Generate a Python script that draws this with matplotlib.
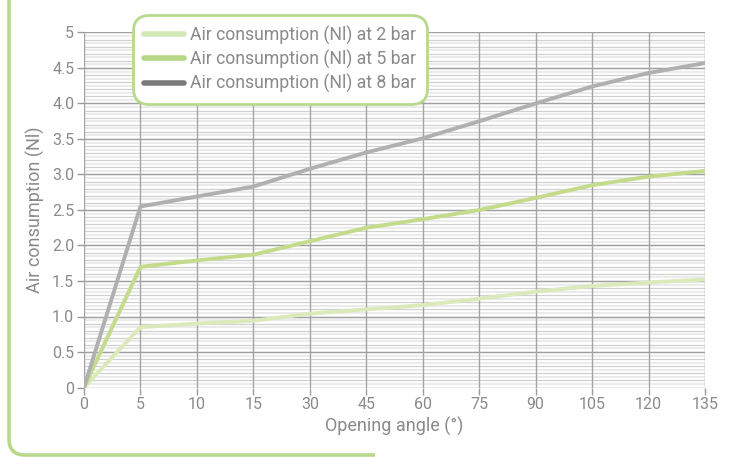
import numpy as np
import matplotlib
matplotlib.use("Agg")
import matplotlib.pyplot as plt
from matplotlib.patches import PathPatch
from matplotlib.path import Path
from matplotlib.transforms import IdentityTransform
from matplotlib.lines import Line2D

# opening angles (categories, equally spaced)
angles = ["0", "5", "10", "15", "30", "45", "60", "75", "90", "105", "120", "135"]
# air consumption in Nl
cons_2bar = [0, 0.85, 0.90, 0.94, 1.04, 1.10, 1.16, 1.25, 1.35, 1.43, 1.48, 1.52]
cons_5bar = [0, 1.70, 1.79, 1.87, 2.06, 2.25, 2.37, 2.50, 2.67, 2.85, 2.97, 3.05]
cons_8bar = [0, 2.55, 2.69, 2.83, 3.08, 3.31, 3.51, 3.75, 4.00, 4.24, 4.43, 4.57]
labels = ["Air consumption (Nl) at 2 bar",
          "Air consumption (Nl) at 5 bar",
          "Air consumption (Nl) at 8 bar"]
yticks = [0, 0.5, 1.0, 1.5, 2.0, 2.5, 3.0, 3.5, 4.0, 4.5, 5]
ytick_labels = ["0", "0.5", "1.0", "1.5", "2.0", "2.5", "3.0", "3.5", "4.0", "4.5", "5"]

c2 = "#dbe9bb"
c5 = "#c3db8a"
c8 = "#b0b0b0"
green = "#b8d98c"
txt = "#8a8a8a"

plt.rcParams['font.family'] = ['Roboto', 'DejaVu Sans']

fig = plt.figure(figsize=(7.33, 4.57), dpi=100)
W, H = 733, 457

# outer frame: left edge + rounded corner + bottom edge (pixel coords)
r = 16
fx, fy = 9, 2
verts = [(fx, H), (fx, fy + r), (fx, fy), (fx + r, fy), (375, fy)]
codes = [Path.MOVETO, Path.LINETO, Path.CURVE3, Path.CURVE3, Path.LINETO]
frame = PathPatch(Path(verts, codes), transform=IdentityTransform(), fill=False,
                  edgecolor=green, linewidth=2.6, capstyle="butt")
fig.patches.append(frame)

ax = fig.add_axes([84 / W, 1 - 387.5 / H, (705 - 84) / W, (387.5 - 32.5) / H])
x = np.arange(len(angles))

# horizontal grid: 0.05 light, 0.1 gray, 0.5 dark
for v in np.arange(0.05, 5.0, 0.1):
    ax.axhline(v, color="#e8e8e8", lw=1.2, zorder=0)
for v in np.arange(0.1, 5.0, 0.1):
    ax.axhline(v, color="#d0d0d0", lw=0.9, zorder=0.5)
for v in yticks:
    ax.axhline(v, color="#a0a0a0", lw=1.0, zorder=1)
for xi in x:
    ax.axvline(xi, color="#a4a4a4", lw=1.0, zorder=1)

ax.plot(x, cons_2bar, color=c2, lw=2.8, zorder=3)
ax.plot(x, cons_5bar, color=c5, lw=2.8, zorder=3)
ax.plot(x, cons_8bar, color=c8, lw=2.8, zorder=3)

ax.set_xlim(0, len(angles) - 1)
ax.set_ylim(0, 5)
ax.set_xticks(x)
ax.set_xticklabels(angles)
ax.set_yticks(yticks)
ax.set_yticklabels(ytick_labels)
ax.tick_params(colors="#9a9a9a", labelcolor=txt, labelsize=11.5, length=5, width=1, pad=2)
for s in ax.spines.values():
    s.set_visible(False)

ax.set_xlabel("Opening angle (°)", color=txt, fontsize=13, labelpad=3)
ax.set_ylabel("Air consumption (Nl)", color=txt, fontsize=13, labelpad=5)

handles = [Line2D([], [], color="#d2e7b6", lw=4, solid_capstyle="round"),
           Line2D([], [], color="#b5d786", lw=4, solid_capstyle="round"),
           Line2D([], [], color="#7b7b7b", lw=4, solid_capstyle="round")]
leg = fig.legend(handles, labels, loc="upper left",
                 bbox_to_anchor=(133 / W, 1 - 15 / H), fontsize=12.7,
                 frameon=True, fancybox=True, framealpha=1,
                 handlelength=2.3, handletextpad=0.35, labelspacing=0.28,
                 borderpad=0.6, borderaxespad=0)
for t in leg.get_texts():
    t.set_color(txt)
fr = leg.get_frame()
fr.set_edgecolor(green)
fr.set_linewidth(2)
fr.set_boxstyle("round,pad=0,rounding_size=0.9")

fig.savefig("out.png", dpi=100)
